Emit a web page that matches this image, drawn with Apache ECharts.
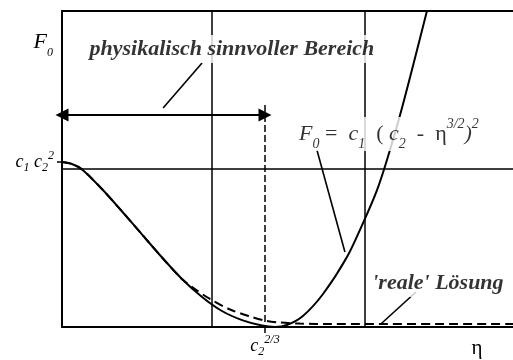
<!DOCTYPE html>
<html>
<head>
<meta charset="utf-8">
<script src="https://cdn.jsdelivr.net/npm/echarts@6/dist/echarts.min.js"></script>
<style>
  html, body { margin: 0; padding: 0; background: #fff; }
  #chart { width: 513px; height: 360px; }
</style>
</head>
<body>
<div id="chart"></div>
<script>
// η measured in units of c2^(2/3), F0 in units of c1·c2²

// model curve F0 = c1 (c2 - η^{3/2})^2
const etaModel = [0.000, 0.049, 0.099, 0.197, 0.296, 0.394, 0.493, 0.591, 0.690, 0.788, 0.887, 0.985, 1.049, 1.108, 1.187, 1.286, 1.404, 1.483, 1.552, 1.601, 1.675, 1.798];
const f0Model  = [1.000, 0.988, 0.955, 0.836, 0.700, 0.561, 0.421, 0.291, 0.182, 0.097, 0.042, 0.009, 0.000, 0.012, 0.067, 0.200, 0.424, 0.630, 0.830, 1.012, 1.327, 1.915];

// 'reale' Lösung (dashed)
const etaReal = [0.000, 0.049, 0.099, 0.197, 0.296, 0.394, 0.493, 0.591, 0.655, 0.729, 0.828, 0.926, 1.000, 1.074, 1.172, 1.320, 2.222];
const f0Real  = [1.000, 0.988, 0.955, 0.836, 0.700, 0.561, 0.421, 0.291, 0.230, 0.170, 0.106, 0.064, 0.039, 0.027, 0.021, 0.018, 0.018];

// axis ticks
const etaTicks = [1];
const f0Ticks = [1];
const etaMax = 2.222;
const f0Max = 1.915;

// guides and annotations (data coordinates)
const guideEta = [0.739, 1.488];
const boundaryEta = 1;
const boundaryTop = 1.345;
const levelF0 = 0.958;
const rangeArrow = [[0, 1.285], [1, 1.285]];
const leaders = [
  [[0.690, 1.600], [0.498, 1.327]],
  [[1.256, 1.073], [1.394, 0.455]],
  [[1.744, 0.212], [1.571, 0.018]]
];
const notePos = [[0.837, 1.685], [1.611, 1.170], [1.852, 0.267]];
const noteText = [
  '{t|physikalisch sinnvoller Bereich}',
  '{i|F}{sb|0}{r| = }{i| c}{sb|1}{r|  ( }{i|c}{sb|2}{r|  -  η}{sp|3/2}{i|)}{sp|2}',
  "{t|'reale' Lösung}"
];

const serif = 'Liberation Serif';
const ink = '#000';

const rich = {
  t:  { fontFamily: serif, fontStyle: 'italic', fontWeight: 'bold', fontSize: 22, lineHeight: 28, color: ink },
  i:  { fontFamily: serif, fontStyle: 'italic', fontSize: 22, lineHeight: 34, color: ink },
  r:  { fontFamily: serif, fontSize: 22, lineHeight: 34, color: ink },
  sb: { fontFamily: serif, fontStyle: 'italic', fontSize: 14, lineHeight: 14, verticalAlign: 'bottom', color: ink },
  sp: { fontFamily: serif, fontStyle: 'italic', fontSize: 14, lineHeight: 14, verticalAlign: 'top', color: ink },
  c:  { fontFamily: serif, fontStyle: 'italic', fontSize: 18, lineHeight: 24, color: ink },
  s:  { fontFamily: serif, fontStyle: 'italic', fontSize: 12, lineHeight: 12, verticalAlign: 'bottom', color: ink },
  u:  { fontFamily: serif, fontStyle: 'italic', fontSize: 12, lineHeight: 12, verticalAlign: 'top', color: ink },
  e:  { fontFamily: serif, fontSize: 21, lineHeight: 22, color: ink }
};

const zip = (xs, ys) => xs.map((x, k) => [x, ys[k]]);

const chart = echarts.init(document.getElementById('chart'), null, { renderer: 'canvas' });

const thin = { color: ink, width: 1.5, type: 'solid' };

chart.setOption({
  animation: false,
  backgroundColor: '#fff',
  grid: { left: 62, right: 0, top: 11, bottom: 33, containLabel: false },
  xAxis: [
    {
      type: 'value', min: 0, max: etaMax, position: 'bottom',
      splitLine: { show: false },
      axisLine: { show: true, onZero: false, lineStyle: { color: ink, width: 2 } },
      axisTick: { show: true, customValues: etaTicks, length: 6, lineStyle: { color: ink, width: 1.5 } },
      axisLabel: {
        show: true, customValues: etaTicks, margin: 7,
        formatter: () => '{c|c}{s|2}{u|2/3}', rich: rich
      },
      name: '{e|η}', nameLocation: 'end', nameGap: -36,
      nameTextStyle: { align: 'center', verticalAlign: 'top', padding: [10, 0, 0, 0], rich: rich }
    },
    {
      type: 'value', min: 0, max: etaMax, position: 'top',
      splitLine: { show: false }, axisTick: { show: false }, axisLabel: { show: false },
      axisLine: { show: true, onZero: false, lineStyle: { color: ink, width: 2 } }
    }
  ],
  yAxis: {
    type: 'value', min: 0, max: f0Max,
    splitLine: { show: false },
    axisLine: { show: true, onZero: false, lineStyle: { color: ink, width: 2 } },
    axisTick: { show: true, customValues: f0Ticks, length: 5, lineStyle: { color: ink, width: 1.5 } },
    axisLabel: {
      show: true, customValues: f0Ticks, margin: 8,
      formatter: () => '{c|c}{s|1}{c| c}{s|2}{u|2}', rich: rich
    },
    name: '{i|F}{s|0}', nameLocation: 'end', nameGap: -31,
    nameTextStyle: { align: 'right', verticalAlign: 'middle', padding: [0, 9, 0, 0], rich: rich }
  },
  series: [
    {
      name: 'guides', type: 'line', data: [], silent: true, z: 1,
      markLine: {
        silent: true, symbol: 'none', label: { show: false }, animation: false,
        emphasis: { disabled: true },
        data: [
          ...guideEta.map(v => ({ xAxis: v, lineStyle: thin })),
          { yAxis: levelF0, lineStyle: thin },
          [
            { coord: [boundaryEta, boundaryTop], lineStyle: { color: ink, width: 1.5, type: [7, 3] } },
            { coord: [boundaryEta, 0] }
          ],
          ...leaders.map(seg => [
            { coord: seg[0], lineStyle: { color: ink, width: 1.6, type: 'solid' } },
            { coord: seg[1] }
          ])
        ]
      }
    },
    {
      name: 'range', type: 'line', data: [], silent: true, z: 2,
      markLine: {
        silent: true, symbol: ['triangle', 'triangle'], symbolSize: 13,
        label: { show: false }, animation: false, emphasis: { disabled: true },
        lineStyle: { color: ink, width: 2, type: 'solid' },
        itemStyle: { color: ink },
        data: [[{ coord: rangeArrow[0] }, { coord: rangeArrow[1] }]]
      }
    },
    {
      name: 'reale Lösung', type: 'line', data: zip(etaReal, f0Real),
      smooth: 0.3, showSymbol: false, silent: true, z: 3,
      lineStyle: { color: ink, width: 2, type: [9, 5] }
    },
    {
      name: 'F0', type: 'line', data: zip(etaModel, f0Model),
      smooth: 0.3, showSymbol: false, silent: true, z: 4,
      lineStyle: { color: ink, width: 2 }
    },
    {
      name: 'notes', type: 'scatter', data: notePos, symbolSize: 0, silent: true, z: 10,
      label: {
        show: true, position: 'inside', align: 'center', verticalAlign: 'middle',
        backgroundColor: '#fff',
        formatter: p => noteText[p.dataIndex],
        rich: rich
      },
      labelLayout: { hideOverlap: false }
    }
  ]
});
</script>
</body>
</html>
